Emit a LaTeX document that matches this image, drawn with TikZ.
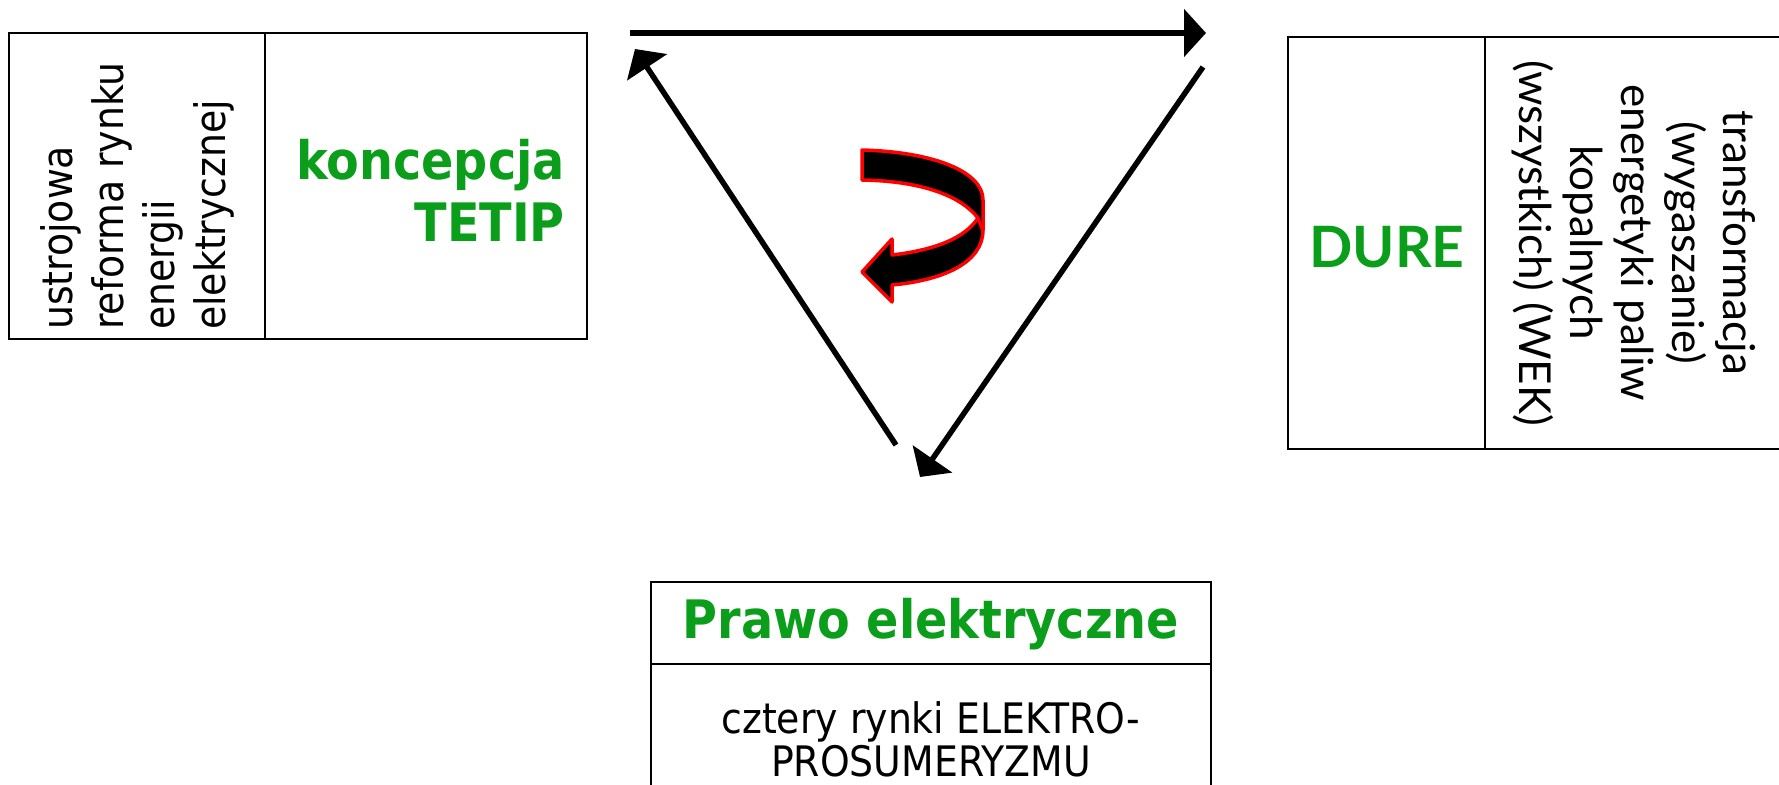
\documentclass[tikz,border=0pt]{standalone}
\usepackage{fontspec}
\setmainfont{DejaVu Sans Condensed}
\newfontfamily\latofont{Lato}
\usetikzlibrary{arrows.meta}
\definecolor{tgreen}{RGB}{10,158,26}
\definecolor{tred}{RGB}{255,0,0}
\begin{document}
\begin{tikzpicture}[x=1pt,y=-1pt,
  box/.style={draw=black,line width=2pt},
  arr/.style={line width=5.5pt,-{Triangle[length=22pt,width=47pt]}},
  gtitle/.style={text=tgreen,font=\fontsize{53}{62}\selectfont\bfseries,inner sep=0pt},
  plain/.style={font=\fontsize{42}{51}\selectfont,inner sep=0pt},
  lato/.style={font=\latofont\fontsize{44}{51}\selectfont,inner sep=0pt}]
\fill[white] (0,0) rectangle (1779,784);
\useasboundingbox (0,0) rectangle (1779,784);
% left box
\draw[box] (9,33) rectangle (587,339);
\draw[box] (265,33) -- (265,339);
\node[plain,rotate=90,anchor=west,align=left] (lefttext) at (137,330)
  {ustrojowa\\reforma rynku\\energii\\elektrycznej};
\node[gtitle,anchor=east,align=right] (tetip) at (565,190) {koncepcja\\TETIP};
% right box
\draw[box] (1288,37) rectangle (1783,449);
\draw[box] (1485,37) -- (1485,449);
\node[text=tgreen,font=\latofont\fontsize{57}{62}\selectfont\bfseries,inner sep=0pt] (dure) at (1387,247) {DURE};
\node[lato,rotate=-90,align=center] (righttext) at (1634,243)
  {transformacja\\(wygaszanie)\\energetyki paliw\\kopalnych\\(wszystkich) (WEK)};
% bottom box
\draw[box] (651,582) rectangle (1211,800);
\draw[box] (651,664) -- (1211,664);
\node[gtitle] (prawo) at (931,624) {Prawo elektryczne};
\node[font=\fontsize{42}{43}\selectfont,inner sep=0pt,align=center] (cztery) at (931,739)
  {cztery rynki ELEKTRO-\\PROSUMERYZMU};
% straight arrows
\coordinate (t1) at (630,33);
\coordinate (t2) at (1206,33);
\coordinate (r1) at (1203,67);
\coordinate (r2) at (920,477);
\coordinate (l1) at (896,445);
\coordinate (l2) at (635,49);
\draw[arr] (t1) -- (t2);
\draw[arr] (r1) -- (r2);
\draw[arr] (l1) -- (l2);
% curved arrow
\draw[fill=black,draw=tred,line width=3.5pt,line join=round]
  (862,150) .. controls (935,152) and (983,172) .. (983,200)
  -- (983,230)
  .. controls (983,262) and (945,280) .. (892,285)
  -- (892,302) -- (862,272) -- (892,239) -- (892,255)
  .. controls (935,250) and (965,238) .. (978,218)
  .. controls (960,195) and (920,181) .. (862,180) -- cycle;
\draw[tred,line width=3pt] (978,218) -- (983,232);
\end{tikzpicture}
\end{document}
